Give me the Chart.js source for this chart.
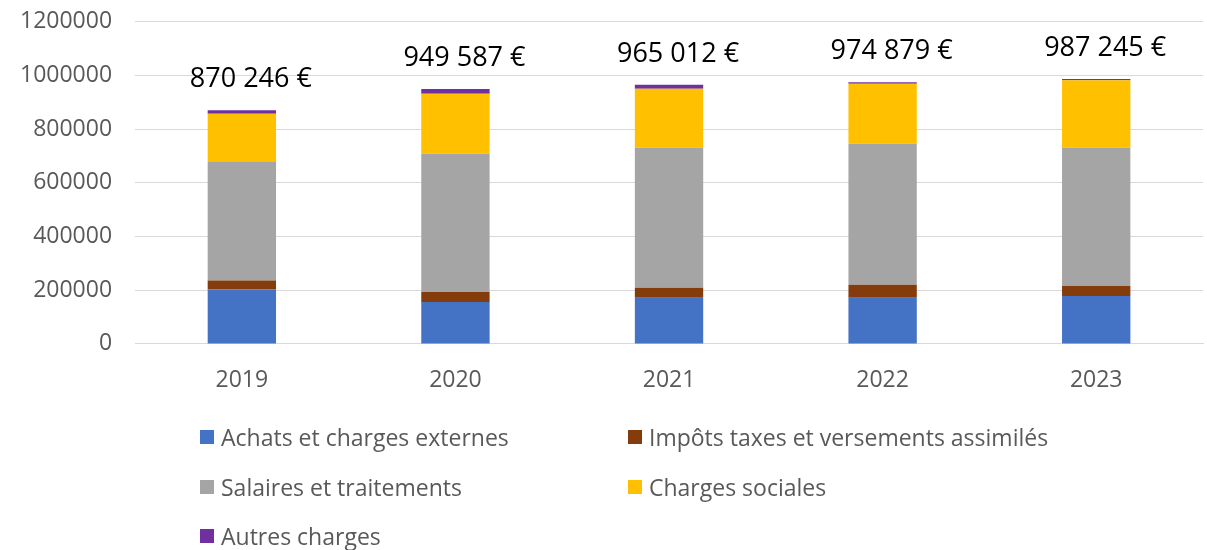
<!DOCTYPE html>
<html>
<head>
<meta charset="utf-8">
<script src="https://cdn.jsdelivr.net/npm/chart.js@4/dist/chart.umd.min.js"></script>
<style>
  html, body { margin: 0; padding: 0; background: #fff; }
  #wrap { position: relative; width: 1207px; height: 550px; overflow: hidden; }
  #c { position: absolute; left: -5px; top: -15px; }
  #legend { position: absolute; left: 0; top: 0; width: 1207px; height: 550px; pointer-events: none;
            font-family: "Open Sans", sans-serif; font-size: 23px; color: #595959; }
  .li { position: absolute; display: flex; align-items: center; white-space: nowrap; transform: translateY(-50%); }
  .sw { width: 14px; height: 14px; margin-right: 7px; flex: none; }
</style>
</head>
<body>
<div id="wrap">
  <canvas id="c" width="1212" height="565"></canvas>
  <div id="legend"></div>
</div>
<script>
const categories = ["2019", "2020", "2021", "2022", "2023"];
const seriesNames = ["Achats et charges externes", "Impôts taxes et versements assimilés", "Salaires et traitements", "Charges sociales", "Autres charges"];
const achats   = [203000, 155700, 172100, 172100, 178100];
const impots   = [33500, 37300, 37300, 48400, 37300];
const salaires = [440800, 515700, 521600, 525400, 515700];
const sociales = [180300, 223600, 219800, 223000, 250800];
const autres   = [12646, 17287, 14212, 5979, 5345];
const yTicks   = [0, 200000, 400000, 600000, 800000, 1000000, 1200000];

const colors = ["#4472C4", "#843C0C", "#A5A5A5", "#FFC000", "#7030A0"];
const seriesData = [achats, impots, salaires, sociales, autres];

const datasets = seriesData.map((d, i) => ({
  label: seriesNames[i],
  data: d,
  backgroundColor: colors[i],
  borderWidth: 0,
  barPercentage: 0.4,
  categoryPercentage: 0.8
}));

function fmt(n) {
  return String(Math.round(n)).replace(/\B(?=(\d{3})+(?!\d))/g, " ") + " €";
}

const totalsPlugin = {
  id: "totals",
  afterDatasetsDraw(chart) {
    const ctx = chart.ctx;
    const last = chart.getDatasetMeta(chart.data.datasets.length - 1);
    ctx.save();
    ctx.font = '27px "Open Sans", sans-serif';
    ctx.fillStyle = "#000000";
    ctx.textAlign = "center";
    ctx.textBaseline = "middle";
    categories.forEach((c, i) => {
      let total = 0;
      chart.data.datasets.forEach(ds => total += ds.data[i]);
      const el = last.data[i];
      ctx.fillText(fmt(total), el.x + 9, el.y - 31);
    });
    ctx.restore();
  }
};

new Chart(document.getElementById("c"), {
  type: "bar",
  data: { labels: categories, datasets },
  options: {
    responsive: false,
    animation: false,
    layout: { padding: { left: 2, right: 4, top: 0, bottom: 133.5 } },
    plugins: { legend: { display: false }, tooltip: { enabled: false } },
    scales: {
      x: {
        stacked: true,
        grid: { display: false, drawTicks: false },
        border: { display: true, color: "#D9D9D9", width: 1 },
        ticks: { color: "#595959", font: { family: "Open Sans", size: 23 }, padding: 22.5 }
      },
      y: {
        stacked: true,
        min: 0, max: 1200000,
        afterBuildTicks(scale) { scale.ticks = yTicks.map(v => ({ value: v })); },
        grid: { color: "#D9D9D9", lineWidth: 1, drawTicks: false },
        border: { display: false },
        ticks: { color: "#595959", font: { family: "Open Sans", size: 23 }, padding: 23,
                 callback: v => String(v) }
      }
    }
  },
  plugins: [totalsPlugin]
});

const legendPos = [
  { x: 200, y: 437 }, { x: 628, y: 437 },
  { x: 200, y: 487 }, { x: 628, y: 487 },
  { x: 200, y: 536 }
];
const lg = document.getElementById("legend");
seriesNames.forEach((n, i) => {
  const d = document.createElement("div");
  d.className = "li";
  d.style.left = legendPos[i].x + "px";
  d.style.top = legendPos[i].y + "px";
  d.innerHTML = '<span class="sw" style="background:' + colors[i] + '"></span><span>' + n + '</span>';
  lg.appendChild(d);
});
</script>
</body>
</html>
